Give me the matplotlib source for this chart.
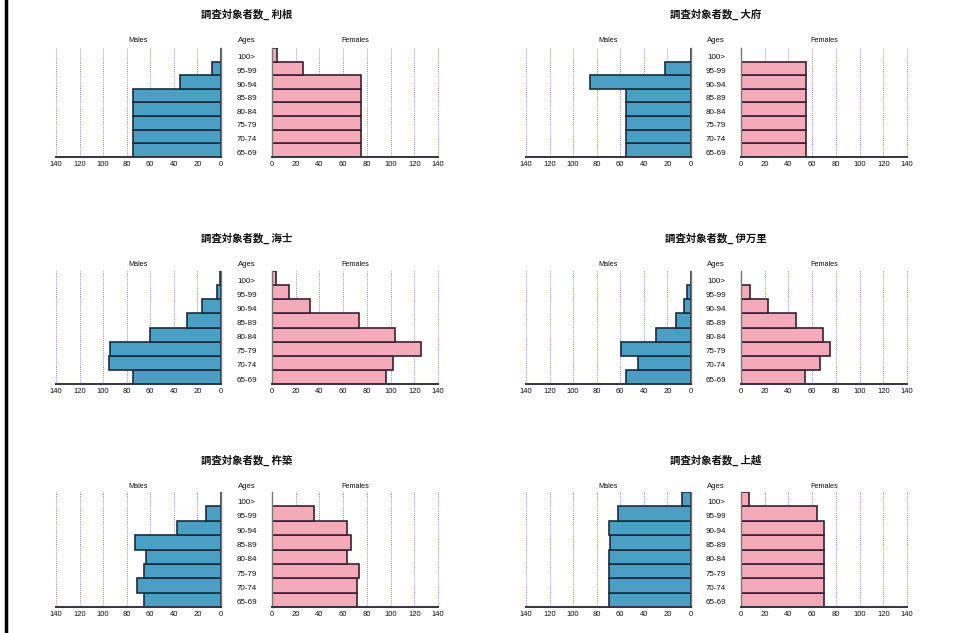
import matplotlib.pyplot as plt
from matplotlib.transforms import blended_transform_factory

plt.rcParams['font.family'] = ['Liberation Sans', 'DejaVu Sans']

# age groups, bottom to top
ages = ["65-69", "70-74", "75-79", "80-84", "85-89", "90-94", "95-99", "100>"]

titles = ["調査対象者数_ 利根", "調査対象者数_ 大府",
          "調査対象者数_ 海士", "調査対象者数_ 伊万里",
          "調査対象者数_ 杵築", "調査対象者数_ 上越"]

tone_m = [75, 75, 75, 75, 75, 35, 8, 0]
tone_f = [75, 75, 75, 75, 75, 75, 26, 4]
obu_m = [55, 55, 55, 55, 55, 86, 22, 0]
obu_f = [55, 55, 55, 55, 55, 55, 55, 0]
ama_m = [75, 95, 94, 60, 29, 16, 3, 1]
ama_f = [96, 102, 126, 104, 73, 32, 14, 3]
imari_m = [55, 45, 59, 30, 13, 6, 3, 0]
imari_f = [54, 67, 75, 69, 46, 23, 8, 0]
kitsuki_m = [65, 71, 65, 64, 73, 37, 13, 0]
kitsuki_f = [72, 72, 73, 63, 67, 63, 35, 0]
joetsu_m = [70, 70, 70, 70, 69, 70, 62, 8]
joetsu_f = [70, 70, 70, 70, 70, 70, 64, 7]

males = [tone_m, obu_m, ama_m, imari_m, kitsuki_m, joetsu_m]
females = [tone_f, obu_f, ama_f, imari_f, kitsuki_f, joetsu_f]

ticks = [0, 20, 40, 60, 80, 100, 120, 140]

W, H = 959, 633
fig = plt.figure(figsize=(W / 100, H / 100), dpi=100)
fig.patch.set_facecolor("white")

# left border line
fig.add_artist(plt.Line2D([6 / W, 6 / W], [0, 1], color="black", lw=2.5,
                          transform=fig.transFigure))

# pixel layout: column x ranges (male axes, female axes), row y ranges
cols = [((56, 221), (272, 438)), ((526, 691), (741, 907))]
rows = [(48, 157), (271, 384), (492, 607)]
title_y = [14, 238, 460]
head_y = [41, 264, 487]


def fx(px):
    return px / W


def fy(py):
    return 1 - py / H


def style_axis(ax, side):
    ax.set_xlim((140, 0) if side == "m" else (0, 140))
    ax.set_ylim(-0.5, 7.5)
    ax.set_xticks(ticks)
    ax.set_yticks([])
    for t in ticks[1:]:
        ax.axvline(t, color="#6666dd", lw=0.6, ls=(0, (1, 1.5)), zorder=0,
                   clip_on=False)
    for s in ["top", "left", "right"]:
        ax.spines[s].set_visible(False)
    zero = "right" if side == "m" else "left"
    ax.spines[zero].set_visible(True)
    ax.spines[zero].set_color("#777777")
    ax.spines[zero].set_linewidth(1.0)
    ax.spines["bottom"].set_color("#333344")
    ax.spines["bottom"].set_linewidth(1.4)
    ax.spines["bottom"].set_zorder(3)
    ax.tick_params(axis="x", length=0, pad=3, labelsize=5.5, colors="#111111")
    ax.set_facecolor("none")


for i in range(6):
    r, c = divmod(i, 2)
    (mx0, mx1), (fx0, fx1) = cols[c]
    y0, y1 = rows[r]
    ax_m = fig.add_axes([fx(mx0), fy(y1), fx(mx1 - mx0), (y1 - y0) / H])
    ax_f = fig.add_axes([fx(fx0), fy(y1), fx(fx1 - fx0), (y1 - y0) / H])

    ax_m.barh(range(len(ages)), males[i], height=1.0, color="#4a9fc4",
              edgecolor="#1c2c3c", linewidth=1.2, zorder=2)
    ax_f.barh(range(len(ages)), females[i], height=1.0, color="#f4aab8",
              edgecolor="#3a2036", linewidth=1.2, zorder=2)
    style_axis(ax_m, "m")
    style_axis(ax_f, "f")

    xc = (mx1 + fx0) / 2
    trans = blended_transform_factory(fig.transFigure, ax_m.transData)
    for k, a in enumerate(ages):
        fig.text(fx(xc), k - 0.22, a, transform=trans, ha="center",
                 va="center", fontsize=5.8, color="#111111")

    fig.text(fx(xc), fy(head_y[r]), "Ages", ha="center", va="center",
             fontsize=5.6, color="#111111")
    fig.text(fx((mx0 + mx1) / 2), fy(head_y[r]), "Males", ha="center",
             va="center", fontsize=5.2, color="#111111")
    fig.text(fx((fx0 + fx1) / 2), fy(head_y[r]), "Females", ha="center",
             va="center", fontsize=5.2, color="#111111")
    fig.text(fx(xc), fy(title_y[r]), titles[i], ha="center", va="center",
             fontsize=7.5, fontweight="bold",
             family=["Noto Sans CJK JP", "DejaVu Sans"], color="#111111")

fig.savefig("out.png", dpi=100, facecolor="white")
